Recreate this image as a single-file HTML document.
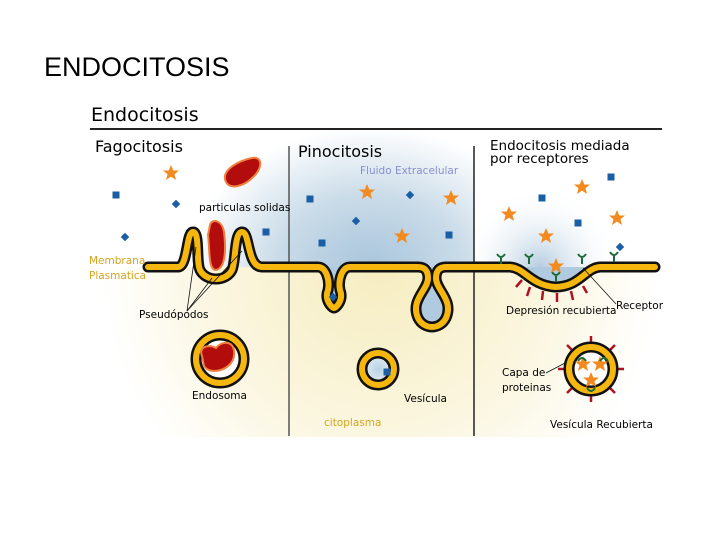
<!DOCTYPE html>
<html><head><style>
body{margin:0;width:720px;height:540px;background:#fff;overflow:hidden}
</style></head><body>
<svg width="720" height="540" xmlns="http://www.w3.org/2000/svg" font-family="DejaVu Sans, Liberation Sans, sans-serif">
<defs>
<radialGradient id="bl" gradientUnits="userSpaceOnUse" cx="370" cy="267" r="140" gradientTransform="translate(370 267) scale(1.3 1) translate(-370 -267)">
<stop offset="0" stop-color="#a9c5dc"/><stop offset="0.5" stop-color="#c9dbe8"/><stop offset="1" stop-color="#fff"/></radialGradient>
<radialGradient id="bl2" gradientUnits="userSpaceOnUse" cx="540" cy="267" r="80">
<stop offset="0" stop-color="#b5cde0"/><stop offset="1" stop-color="#fff" stop-opacity="0"/></radialGradient>
<radialGradient id="yl" gradientUnits="userSpaceOnUse" cx="380" cy="267" r="280">
<stop offset="0" stop-color="#f6edc0"/><stop offset="0.6" stop-color="#fbf6e0"/><stop offset="1" stop-color="#fff"/></radialGradient>
<radialGradient id="ves" cx="0.5" cy="0.5" r="0.5"><stop offset="0" stop-color="#b9d2e4"/><stop offset="1" stop-color="#e6eff5"/></radialGradient>
<path id="mem" d="M148,267 L178,267 C188,267 186,232 193,232 C200,232 196,262 200,270 C206,282 226,282 232,270 C236,262 234,232 242,232 C250,232 247,267 262,267 L318,267 C326,267 330,280 328,290 C324,300 332,308 334,308 C336,308 344,300 340,290 C338,280 342,267 350,267 L418,267 C424,267 428,270 428,278 C428,290 410,300 418,318 C424,330 440,330 446,318 C454,300 436,290 436,278 C436,270 440,267 446,267 L510,267 C525,268 530,285 555,287 C580,287 585,268 600,267 L655,267"/>
<g id="st"><polygon points="0,-8 2.3,-2.5 8,-2.5 3.5,1.2 5,7 0,3.6 -5,7 -3.5,1.2 -8,-2.5 -2.3,-2.5" fill="#f28a1f"/></g>
<g id="sq"><rect x="-3.5" y="-3.5" width="7" height="7" fill="#1a5ea6"/></g>
<g id="dm"><rect x="-3" y="-3" width="6" height="6" fill="#1a5ea6" transform="rotate(45)"/></g>
</defs>
<text x="44" y="76" font-family="Liberation Sans, sans-serif" font-size="27">ENDOCITOSIS</text>
<!-- backgrounds -->
<rect x="90" y="132" width="384" height="135" fill="url(#bl)"/>
<rect x="475" y="180" width="187" height="87" fill="url(#bl2)"/>
<rect x="90" y="267" width="572" height="170" fill="url(#yl)"/>
<path d="M318,267 C326,267 330,280 328,290 C324,300 332,308 334,308 C336,308 344,300 340,290 C338,280 342,267 350,267Z M418,267 C424,267 428,270 428,278 C428,290 410,300 418,318 C424,330 440,330 446,318 C454,300 436,290 436,278 C436,270 440,267 446,267Z M510,267 C525,268 530,285 555,287 C580,287 585,268 600,267Z" fill="#b0cadf"/>
<text x="91" y="121" font-size="19">Endocitosis</text>
<line x1="90" y1="129" x2="662" y2="129" stroke="#222" stroke-width="2"/>
<line x1="289" y1="146" x2="289" y2="436" stroke="#555" stroke-width="1.5"/>
<line x1="474" y1="146" x2="474" y2="436" stroke="#222" stroke-width="1.5"/>
<text x="95" y="152" font-size="16">Fagocitosis</text>
<text x="298" y="157" font-size="16">Pinocitosis</text>
<text x="360" y="174" font-size="10.5" fill="#8a8ed0">Fluido Extracelular</text>
<text x="490" y="150" font-size="13.5">Endocitosis mediada</text>
<text x="490" y="163" font-size="13.5">por receptores</text>
<!-- membrane -->
<g fill="none" stroke-linejoin="round" stroke-linecap="round">
<use href="#mem" stroke="#111" stroke-width="11"/>
<use href="#mem" stroke="#f5b60e" stroke-width="6"/>
</g>
<!-- vesicles -->
<circle cx="220" cy="359" r="24" fill="#fff" stroke="#111" stroke-width="11"/>
<circle cx="220" cy="359" r="24" fill="none" stroke="#f5b60e" stroke-width="6"/>
<circle cx="378" cy="369" r="16" fill="url(#ves)" stroke="#111" stroke-width="11"/>
<circle cx="378" cy="369" r="16" fill="none" stroke="#f5b60e" stroke-width="6"/>
<use href="#sq" x="387" y="372"/>
<g stroke="#b01020" stroke-width="2.5">
<line x1="591" y1="345" x2="591" y2="336"/><line x1="591" y1="393" x2="591" y2="402"/>
<line x1="567" y1="369" x2="558" y2="369"/><line x1="615" y1="369" x2="624" y2="369"/>
<line x1="574" y1="352" x2="567" y2="345"/><line x1="608" y1="352" x2="615" y2="345"/>
<line x1="574" y1="386" x2="567" y2="393"/><line x1="608" y1="386" x2="615" y2="393"/>
<line x1="530" y1="287" x2="527" y2="296"/><line x1="543" y1="291" x2="542" y2="300"/><line x1="557" y1="293" x2="557" y2="302"/><line x1="571" y1="291" x2="573" y2="300"/><line x1="583" y1="286" x2="587" y2="293"/><line x1="522" y1="280" x2="516" y2="287"/>
</g>
<circle cx="591" cy="369" r="22" fill="#fff" stroke="#111" stroke-width="11"/>
<circle cx="591" cy="369" r="22" fill="none" stroke="#f5b60e" stroke-width="6"/>
<use href="#st" x="583" y="364"/><use href="#st" x="600" y="364"/><use href="#st" x="591" y="380"/>
<!-- red particles -->
<path d="M226,182 C220,170 240,160 252,158 C264,156 262,170 252,178 C244,186 230,190 226,182Z" fill="#b30c0c" stroke="#f08040" stroke-width="2"/>
<path d="M210,225 C212,218 222,220 224,232 C226,248 226,268 216,270 C208,270 210,250 208,235Z" fill="#b30c0c" stroke="#f08040" stroke-width="2"/>
<path d="M202,356 C198,346 210,344 216,348 C222,340 236,340 234,356 C232,370 210,376 204,366Z" fill="#b30c0c" stroke="#f08040" stroke-width="2"/>
<!-- receptors -->
<g stroke="#1b6b3a" stroke-width="2" fill="none">
<path d="M501,264 v-6 m-4,-4 q4,6 8,0"/><path d="M529,264 v-6 m-4,-4 q4,6 8,0"/><path d="M556,282 v-6 m-4,-4 q4,6 8,0"/><path d="M582,264 v-6 m-4,-4 q4,6 8,0"/><path d="M614,262 v-6 m-4,-4 q4,6 8,0"/>
<path d="M578,361 q4,-6 8,0"/><path d="M600,361 q4,-6 8,0"/><path d="M587,388 q4,6 8,0"/>
</g>
<!-- particles -->
<use href="#st" x="171" y="173"/><use href="#sq" x="116" y="195"/><use href="#dm" x="176" y="204"/><use href="#dm" x="125" y="237"/><use href="#sq" x="266" y="232"/>
<use href="#sq" x="310" y="199"/><use href="#st" x="367" y="192"/><use href="#dm" x="356" y="221"/><use href="#sq" x="322" y="243"/><use href="#dm" x="410" y="195"/><use href="#st" x="451" y="198"/><use href="#st" x="402" y="236"/><use href="#sq" x="449" y="235"/><use href="#dm" x="333" y="297"/>
<use href="#st" x="582" y="187"/><use href="#sq" x="611" y="177"/><use href="#sq" x="542" y="198"/><use href="#st" x="509" y="214"/><use href="#st" x="617" y="218"/><use href="#sq" x="578" y="223"/><use href="#st" x="546" y="236"/><use href="#dm" x="620" y="247"/><use href="#st" x="556" y="266"/>
<!-- labels -->
<g font-size="10.5">
<text x="199" y="211">particulas solidas</text>
<text x="89" y="264" fill="#d4a520">Membrana</text>
<text x="89" y="279" fill="#d4a520">Plasmatica</text>
<text x="139" y="318">Pseudópodos</text>
<text x="192" y="399">Endosoma</text>
<text x="324" y="426" fill="#d4a520">citoplasma</text>
<text x="404" y="402">Vesícula</text>
<text x="506" y="314">Depresión recubierta</text>
<text x="616" y="309">Receptor</text>
<text x="502" y="376">Capa de</text>
<text x="502" y="391">proteinas</text>
<text x="550" y="428">Vesícula Recubierta</text>
</g>
<g stroke="#111" stroke-width="0.8">
<line x1="187" y1="311" x2="196" y2="247"/><line x1="187" y1="311" x2="242" y2="251"/>
<line x1="187" y1="311" x2="212" y2="278"/>
<line x1="616" y1="304" x2="583" y2="268"/>
<line x1="546" y1="373" x2="565" y2="363"/>
</g>
</svg>
</body></html>
